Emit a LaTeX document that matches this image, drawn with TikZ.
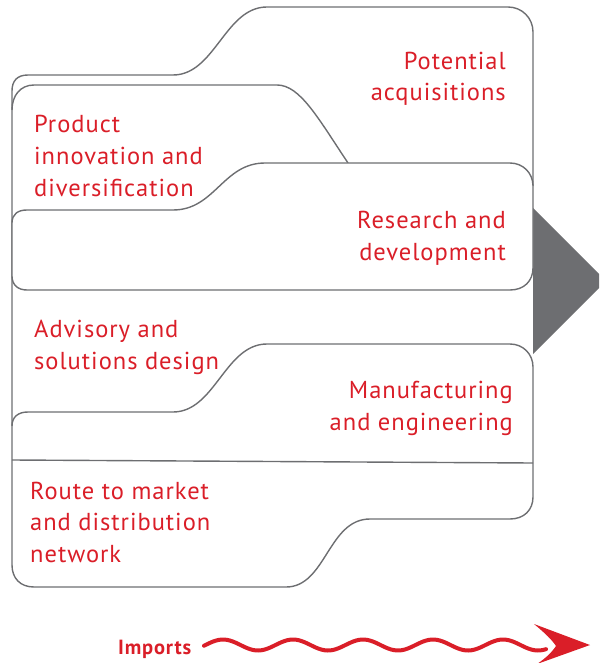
\documentclass[tikz,border=0pt]{standalone}
\usepackage{fontspec}
\setmainfont{PT Sans}[LetterSpace=4]
\definecolor{outline}{RGB}{109,110,113}
\definecolor{brandred}{RGB}{218,30,40}
\begin{document}
\begin{tikzpicture}[x=1pt,y=-1pt,
  shapeline/.style={draw=outline,line width=1.4pt,line join=round},
  lbl/.style={text=brandred,inner sep=0pt,font=\fontsize{24.5}{31.5}\selectfont},
  lblL/.style={lbl,align=left,anchor=base west},
  lblR/.style={lbl,align=right,anchor=base east}]
\useasboundingbox (0,0) rectangle (599,663);

% arrow wedge behind the boxes
\begin{scope}
\clip (0,0) rectangle (599,663);
\fill[outline] (533,208) -- (606,281) -- (533,354) -- cycle;
\end{scope}

% outer block with the upper tab
\draw[shapeline] (12,565) -- (12,91) .. controls (12,81) and (17,75) .. (28,75)
  -- (173,75) .. controls (215,75) and (225,7) .. (267,7)
  -- (508,7) .. controls (522,7) and (533,18) .. (533,32) -- (533,186);

% product innovation tab
\draw[shapeline] (12,110) .. controls (12,96) and (20,85) .. (34,85)
  -- (277,85) .. controls (300,85) and (318,118) .. (348,163);

% research and development box
\draw[shapeline,fill=white] (12,223) .. controls (12,214) and (18,210) .. (27,210)
  -- (173,210) .. controls (215,210) and (223,163) .. (265,163)
  -- (510,163) .. controls (523,163) and (533,173) .. (533,186)
  -- (533,268) .. controls (533,281) and (524,290) .. (510,290)
  -- (27,290) .. controls (18,290) and (12,285) .. (12,276) -- cycle;

% manufacturing and route-to-market block
\draw[shapeline] (12,426) .. controls (12,417) and (18,412) .. (28,412)
  -- (173,412) .. controls (215,412) and (225,344) .. (267,344)
  -- (510,344) .. controls (523,344) and (533,354) .. (533,367)
  -- (533,497) .. controls (533,510) and (524,519) .. (510,519)
  -- (370,519) .. controls (328,519) and (326,587) .. (286,587)
  -- (34,587) .. controls (20,587) and (12,578) .. (12,565);
\draw[shapeline] (12,460) -- (533,463);

% labels (anchored at the baseline of their last line)
\node[lblR] (acq) at (506,101) {Potential\\acquisitions};
\node[lblL] (prod) at (34,196) {Product\\innovation and\\diversification};
\node[lblR] (rd) at (506,260) {Research and\\development};
\node[lblL] (adv) at (34,369) {Advisory and\\solutions design};
\node[lblR] (man) at (513,430) {Manufacturing\\and engineering};
\node[lblL] (route) at (30,562) {Route to market\\and distribution\\network};

% imports arrow
\node[text=brandred,inner sep=0pt,anchor=base west,font=\bfseries\fontsize{20.5}{22}\selectfont] (imp) at (118,654) {Imports};
\coordinate (tip) at (590,645);
\draw[brandred,line width=4pt,line cap=round] plot[domain=204:546,samples=120,smooth] (\x,{645-5.5*cos((\x-223)*5.142857)});
\fill[brandred] (tip) -- (534,624) .. controls (546,634) and (552,640) .. (556,646)
  .. controls (552,652) and (546,658) .. (537,664) -- cycle;
\end{tikzpicture}
\end{document}
